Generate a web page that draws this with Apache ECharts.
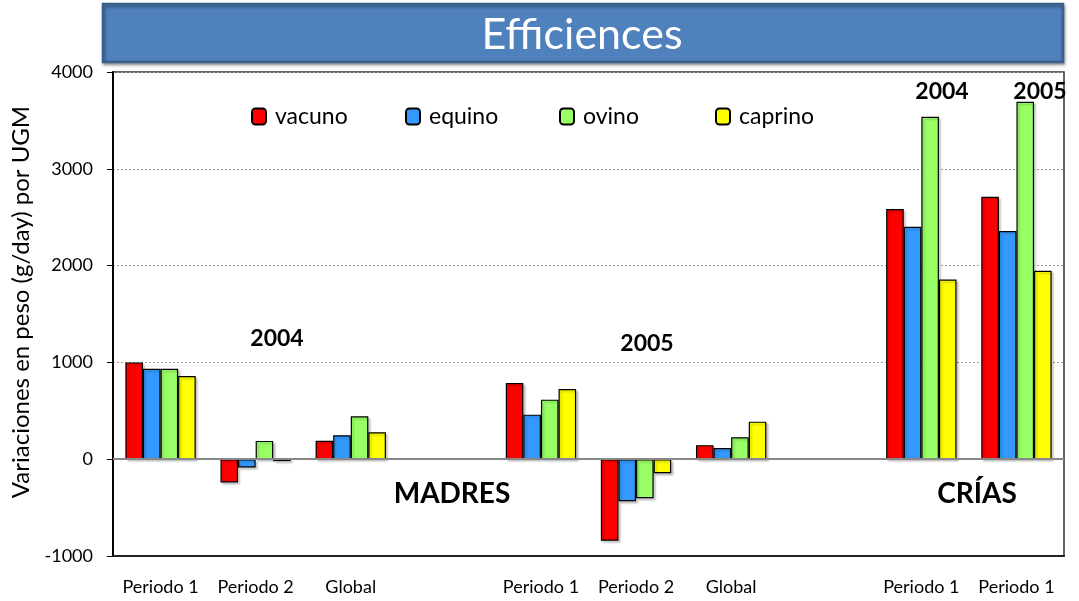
<!DOCTYPE html>
<html>
<head>
<meta charset="utf-8">
<script src="https://cdn.jsdelivr.net/npm/echarts@6/dist/echarts.min.js"></script>
<style>
  html, body { margin: 0; padding: 0; background: #fff; }
  #main { width: 1079px; height: 601px; }
</style>
</head>
<body>
<div id="main"></div>
<script>
var categories = ['Periodo 1', 'Periodo 2', 'Global', '', 'Periodo 1', 'Periodo 2', 'Global', '', 'Periodo 1', 'Periodo 1'];
var vacuno  = [1000, -240, 190, null, 787, -842, 145, null, 2584, 2711];
var equino  = [935, -85, 248, null, 460, -434, 116, null, 2401, 2357];
var ovino   = [935, 189, 444, null, 615, -403, 227, null, 3538, 3693];
var caprino = [860, -20, 279, null, 724, -145, 388, null, 1857, 1946];
var seriesNames = ['vacuno', 'equino', 'ovino', 'caprino'];
var seriesColors = ['#ff0000', '#3399ff', '#99ff66', '#ffff00'];
var seriesData = [vacuno, equino, ovino, caprino];

var font = 'Lato, "Open Sans", sans-serif';
var myChart = echarts.init(document.getElementById('main'));

var legendLeft = [246, 400, 554, 710];
var legends = seriesNames.map(function (n, i) {
  return {
    data: [n],
    left: legendLeft[i],
    top: 100,
    itemWidth: 14,
    itemHeight: 16,
    selectedMode: false,
    textStyle: { fontFamily: font, fontSize: 23, color: '#000', padding: [0, 0, 0, 4] }
  };
});

var series = seriesNames.map(function (n, i) {
  var s = {
    name: n,
    type: 'bar',
    data: seriesData[i],
    barGap: '0%',
    barCategoryGap: '26%',
    itemStyle: {
      color: seriesColors[i],
      borderColor: '#000',
      borderWidth: 1.2,
      shadowColor: 'rgba(0,0,0,0.2)',
      shadowOffsetX: 2,
      shadowOffsetY: 2,
      shadowBlur: 2
    }
  };
  if (i === 0) {
    s.markLine = {
      silent: true,
      symbol: 'none',
      label: { show: false },
      lineStyle: { color: '#888', width: 2, type: 'solid' },
      data: [{ yAxis: 0 }]
    };
  }
  return s;
});

function label(text, x, y, size) {
  return {
    type: 'text',
    x: x, y: y,
    style: {
      text: text,
      font: 'bold ' + size + 'px ' + font,
      fill: '#000',
      align: 'center', verticalAlign: 'middle'
    }
  };
}

var option = {
  backgroundColor: '#fff',
  animation: false,
  grid: {
    left: 113, right: 15, top: 72, bottom: 45,
    show: true,
    borderColor: '#333',
    borderWidth: 1.5
  },
  legend: legends,
  xAxis: {
    type: 'category',
    data: categories,
    axisLine: { onZero: false, lineStyle: { color: '#222', width: 2 } },
    axisTick: { show: false },
    axisLabel: { interval: 0, fontFamily: font, fontSize: 18, color: '#000', margin: 22 }
  },
  yAxis: {
    type: 'value',
    min: -1000,
    max: 4000,
    interval: 1000,
    name: 'Variaciones en peso (g/day) por UGM',
    nameLocation: 'middle',
    nameGap: 55,
    nameTextStyle: { fontFamily: font, fontSize: 24, color: '#000', padding: [0, 0, 0, 24] },
    axisLine: { show: true, lineStyle: { color: '#000', width: 2 } },
    axisTick: { show: true, length: 6, lineStyle: { color: '#000' } },
    axisLabel: { fontFamily: font, fontSize: 18, color: '#000', margin: 20, formatter: function (v) { return String(v); } },
    splitLine: { lineStyle: { color: '#999', type: [2, 2], width: 1 } }
  },
  graphic: [
    {
      type: 'rect',
      x: 103, y: 4,
      shape: { width: 960, height: 58 },
      style: {
        fill: '#4f81bd', stroke: '#3a5f8b', lineWidth: 2.5,
        shadowColor: 'rgba(0,0,0,0.35)', shadowBlur: 3, shadowOffsetX: 1, shadowOffsetY: 2
      }
    },
    {
      type: 'text',
      x: 582, y: 35,
      style: {
        text: 'Efficiences',
        font: '43px ' + font, fill: '#fff',
        align: 'center', verticalAlign: 'middle'
      }
    },
    label('2004', 277, 339, 23),
    label('2005', 647, 344, 23),
    label('2004', 942, 92, 23),
    label('2005', 1040, 92, 23),
    label('MADRES', 452, 494, 28),
    label('CRÍAS', 977, 494, 28)
  ],
  series: series
};

option && myChart.setOption(option);
</script>
</body>
</html>
